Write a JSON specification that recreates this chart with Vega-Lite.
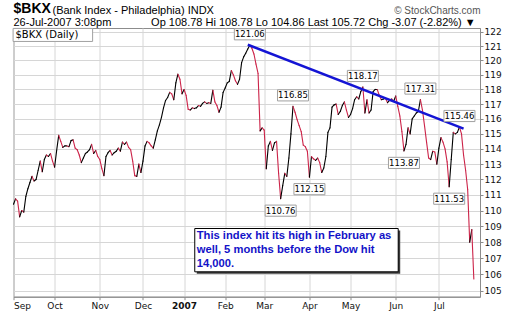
{
  "$schema": "https://vega.github.io/schema/vega-lite/v6.json",
  "width": 466.5,
  "height": 268.7,
  "autosize": {"type": "none"},
  "padding": {"left": 13.5, "top": 28, "right": 33, "bottom": 19.3},
  "background": "white",
  "title": {
    "text": "$BKX",
    "subtitle": "26-Jul-2007 3:08pm\u00a0\u00a0\u00a0\u00a0\u00a0\u00a0\u00a0\u00a0\u00a0\u00a0\u00a0\u00a0\u00a0Op 108.78  Hi 108.78  Lo 104.86  Last 105.72  Chg -3.07 (-2.82%) \u25bc",
    "anchor": "start",
    "frame": "group",
    "font": "Liberation Sans",
    "fontSize": 14,
    "fontWeight": "bold",
    "color": "#000000",
    "subtitleFont": "Liberation Sans",
    "subtitleFontSize": 11,
    "subtitleColor": "#000000",
    "subtitlePadding": 1.5,
    "offset": 1,
    "dy": 25
  },
  "config": {
    "view": {"stroke": "#8c8c8c", "strokeWidth": 1},
    "axis": {
      "gridColor": "#d6d6d6",
      "gridWidth": 1,
      "domainColor": "#8c8c8c",
      "tickColor": "#8c8c8c",
      "tickSize": 3,
      "labelFont": "DejaVu Sans",
      "labelFontSize": 9,
      "labelColor": "#111111"
    }
  },
  "datasets": {
    "px": [
      {"i":0,"c":110.4},{"i":1,"c":110.75},{"i":2,"c":110.6},{"i":3,"c":109.6},{"i":4,"c":110.0},{"i":5,"c":109.9},{"i":6,"c":110.9},{"i":7,"c":111.4},{"i":8,"c":111.8},{"i":9,"c":112.2},
      {"i":10,"c":111.9},{"i":11,"c":112.0},{"i":12,"c":112.6},{"i":13,"c":113.2},{"i":14,"c":112.5},{"i":15,"c":113.3},{"i":16,"c":113.6},{"i":17,"c":113.5},{"i":18,"c":113.7},{"i":19,"c":113.2},
      {"i":20,"c":112.8},{"i":21,"c":113.9},{"i":22,"c":114.9},{"i":23,"c":114.5},{"i":24,"c":114.1},{"i":25,"c":114.2},{"i":26,"c":114.2},{"i":27,"c":114.15},{"i":28,"c":114.55},{"i":29,"c":114.6},
      {"i":30,"c":114.05},{"i":31,"c":113.95},{"i":32,"c":113.6},{"i":33,"c":113.1},{"i":34,"c":113.4},{"i":35,"c":113.7},{"i":36,"c":113.8},{"i":37,"c":113.95},{"i":38,"c":114.3},{"i":39,"c":113.7},
      {"i":40,"c":113.9},{"i":41,"c":113.5},{"i":42,"c":113.3},{"i":43,"c":112.7},{"i":44,"c":112.25},{"i":45,"c":113.5},{"i":46,"c":113.75},{"i":47,"c":113.9},{"i":48,"c":113.6},{"i":49,"c":113.75},
      {"i":50,"c":113.85},{"i":51,"c":114.05},{"i":52,"c":113.85},{"i":53,"c":114.45},{"i":54,"c":114.3},{"i":55,"c":114.45},{"i":56,"c":114.1},{"i":57,"c":113.95},{"i":58,"c":113.2},{"i":59,"c":112.25},
      {"i":60,"c":112.2},{"i":61,"c":113.0},{"i":62,"c":112.45},{"i":63,"c":113.2},{"i":64,"c":114.2},{"i":65,"c":114.5},{"i":66,"c":114.4},{"i":67,"c":114.2},{"i":68,"c":114.05},{"i":69,"c":114.6},
      {"i":70,"c":115.2},{"i":71,"c":115.6},{"i":72,"c":116.1},{"i":73,"c":116.75},{"i":74,"c":117.25},{"i":75,"c":117.45},{"i":76,"c":117.8},{"i":77,"c":117.7},{"i":78,"c":117.3},{"i":79,"c":118.45},
      {"i":80,"c":119.05},{"i":81,"c":118.7},{"i":82,"c":117.7},{"i":83,"c":118.0},{"i":84,"c":117.6},{"i":85,"c":116.65},{"i":86,"c":116.6},{"i":87,"c":116.75},{"i":88,"c":116.7},{"i":89,"c":116.75},
      {"i":90,"c":116.9},{"i":91,"c":116.85},{"i":92,"c":117.05},{"i":93,"c":117.15},{"i":94,"c":117.05},{"i":95,"c":117.1},{"i":96,"c":117.05},{"i":97,"c":117.95},{"i":98,"c":117.15},{"i":99,"c":116.9},
      {"i":100,"c":116.45},{"i":101,"c":116.8},{"i":102,"c":117.8},{"i":103,"c":118.1},{"i":104,"c":118.45},{"i":105,"c":118.55},{"i":106,"c":119.3},{"i":107,"c":119.0},{"i":108,"c":118.6},{"i":109,"c":118.35},
      {"i":110,"c":118.7},{"i":111,"c":119.85},{"i":112,"c":120.25},{"i":113,"c":120.5},{"i":114,"c":120.8},{"i":115,"c":121.06},{"i":116,"c":120.85},{"i":117,"c":120.45},{"i":118,"c":119.75},{"i":119,"c":119.1},
      {"i":120,"c":115.2},{"i":121,"c":115.4},{"i":122,"c":115.25},{"i":123,"c":112.7},{"i":124,"c":114.2},{"i":125,"c":114.5},{"i":126,"c":113.9},{"i":127,"c":114.4},{"i":128,"c":114.5},{"i":129,"c":112.4},
      {"i":130,"c":110.76},{"i":131,"c":111.6},{"i":132,"c":112.4},{"i":133,"c":112.2},{"i":134,"c":113.4},{"i":135,"c":115.0},{"i":136,"c":116.85},{"i":137,"c":116.45},{"i":138,"c":115.95},{"i":139,"c":115.55},
      {"i":140,"c":115.15},{"i":141,"c":114.25},{"i":142,"c":114.15},{"i":143,"c":113.85},{"i":144,"c":112.15},{"i":145,"c":113.5},{"i":146,"c":113.35},{"i":147,"c":113.25},{"i":148,"c":113.4},{"i":149,"c":113.1},
      {"i":150,"c":112.45},{"i":151,"c":112.75},{"i":152,"c":113.5},{"i":153,"c":115.1},{"i":154,"c":115.4},{"i":155,"c":116.8},{"i":156,"c":116.95},{"i":157,"c":117.0},{"i":158,"c":116.3},{"i":159,"c":116.5},
      {"i":160,"c":116.9},{"i":161,"c":117.15},{"i":162,"c":116.6},{"i":163,"c":116.1},{"i":164,"c":116.3},{"i":165,"c":116.7},{"i":166,"c":117.3},{"i":167,"c":117.5},{"i":168,"c":117.35},{"i":169,"c":117.85},
      {"i":170,"c":118.17},{"i":171,"c":116.4},{"i":172,"c":117.3},{"i":173,"c":116.4},{"i":174,"c":116.6},{"i":175,"c":117.85},{"i":176,"c":118.0},{"i":177,"c":118.0},{"i":178,"c":117.6},{"i":179,"c":117.3},
      {"i":180,"c":117.35},{"i":181,"c":117.4},{"i":182,"c":117.1},{"i":183,"c":117.25},{"i":184,"c":117.35},{"i":185,"c":117.2},{"i":186,"c":117.55},{"i":187,"c":116.85},{"i":188,"c":116.2},{"i":189,"c":115.15},
      {"i":190,"c":113.87},{"i":191,"c":114.3},{"i":192,"c":115.4},{"i":193,"c":115.0},{"i":194,"c":116.0},{"i":195,"c":116.2},{"i":196,"c":116.4},{"i":197,"c":116.5},{"i":198,"c":117.31},{"i":199,"c":116.6},
      {"i":200,"c":115.55},{"i":201,"c":114.45},{"i":202,"c":113.4},{"i":203,"c":113.3},{"i":204,"c":113.85},{"i":205,"c":113.8},{"i":206,"c":113.0},{"i":207,"c":114.05},{"i":208,"c":114.75},{"i":209,"c":114.45},
      {"i":210,"c":114.0},{"i":211,"c":113.15},{"i":212,"c":111.53},{"i":213,"c":113.3},{"i":214,"c":115.1},{"i":215,"c":115.0},{"i":216,"c":115.1},{"i":217,"c":115.46},{"i":218,"c":115.0},{"i":219,"c":113.6},
      {"i":220,"c":112.6},{"i":221,"c":111.35},{"i":222,"c":108.0},{"i":223,"c":108.79},{"i":224,"c":105.72}
    ],
    "labels": [
      {"i":115,"v":121.06,"k":"hi"},{"i":136,"v":116.85,"k":"hi"},{"i":170,"v":118.17,"k":"hi"},{"i":198,"v":117.31,"k":"hi"},{"i":217,"v":115.46,"k":"hi"},
      {"i":130,"v":110.76,"k":"lo"},{"i":144,"v":112.15,"k":"lo"},{"i":190,"v":113.87,"k":"lo"},{"i":212,"v":111.53,"k":"lo"}
    ],
    "trend": [{"i":114,"v":121.1},{"i":219,"v":115.35}]
  },
  "layer": [
    {
      "data": {"name": "px"},
      "transform": [
        {"window": [{"op": "lag", "field": "c", "as": "pc"}, {"op": "lag", "field": "i", "as": "pi"}], "sort": [{"field": "i", "order": "ascending"}]},
        {"filter": "datum.pc != null"}
      ],
      "mark": {"type": "rule", "strokeWidth": 1.1, "strokeCap": "round"},
      "encoding": {
        "x": {"field": "pi", "type": "quantitative",
          "scale": {"type": "linear", "domain": [0, 227], "nice": false, "zero": false},
          "axis": {
            "title": "(Bank Index - Philadelphia) INDX",
            "titleX": 38.5,
            "titleY": -283.4,
            "titleAlign": "left",
            "titleBaseline": "alphabetic",
            "titleAngle": 0,
            "titleFont": "Liberation Sans",
            "titleFontSize": 11,
            "titleFontWeight": "normal",
            "titleColor": "#000000",
            "values": [0, 20, 42, 63, 83, 103, 122, 144, 164, 186, 207],
            "labelExpr": "['Sep','Oct','Nov','Dec','2007','Feb','Mar','Apr','May','Jun','Jul'][indexof([0,20,42,63,83,103,122,144,164,186,207], datum.value)]",
            "labelFontWeight": {"condition": {"test": "datum.value == 83", "value": "bold"}, "value": "normal"},
            "labelPadding": 2,
            "grid": true
          }
        },
        "x2": {"field": "i"},
        "y": {"field": "pc", "type": "quantitative",
          "scale": {"type": "log", "domain": [104.64, 122.28], "nice": false, "zero": false},
          "axis": {
            "title": "\u00a9 StockCharts.com",
            "titleX": 0,
            "titleY": -14.5,
            "titleAlign": "right",
            "titleBaseline": "alphabetic",
            "titleAngle": 0,
            "titleFont": "Liberation Sans",
            "titleFontSize": 10,
            "titleFontWeight": "normal",
            "titleColor": "#555555",
            "orient": "right",
            "values": [105,106,107,108,109,110,111,112,113,114,115,116,117,118,119,120,121,122],
            "format": "d",
            "labelPadding": 1,
            "grid": true
          }
        },
        "y2": {"field": "c"},
        "color": {"condition": {"test": "datum.c >= datum.pc", "value": "#000000"}, "value": "#cc2449"}
      }
    },
    {
      "data": {"name": "trend"},
      "mark": {"type": "line", "color": "#1414d4", "strokeWidth": 2.5},
      "encoding": {
        "x": {"field": "i", "type": "quantitative"},
        "y": {"field": "v", "type": "quantitative"}
      }
    },
    {
      "data": {"name": "labels"},
      "transform": [{"filter": "datum.k == 'hi'"}],
      "layer": [
        {
          "mark": {"type": "point", "shape": "M-1,-0.36L1,-0.36L1,0.36L-1,0.36Z", "size": 961, "filled": true, "fill": "white", "stroke": "#a0a0a0", "strokeWidth": 1, "opacity": 1, "yOffset": -11},
          "encoding": {
            "x": {"field": "i", "type": "quantitative"},
            "y": {"field": "v", "type": "quantitative"}
          }
        },
        {
          "mark": {"type": "text", "font": "DejaVu Sans", "fontSize": 8.5, "color": "#000000", "baseline": "middle", "align": "center", "yOffset": -11},
          "encoding": {
            "x": {"field": "i", "type": "quantitative"},
            "y": {"field": "v", "type": "quantitative"},
            "text": {"field": "v", "type": "quantitative", "format": ".2f"}
          }
        }
      ]
    },
    {
      "data": {"name": "labels"},
      "transform": [{"filter": "datum.k == 'lo'"}],
      "layer": [
        {
          "mark": {"type": "point", "shape": "M-1,-0.36L1,-0.36L1,0.36L-1,0.36Z", "size": 961, "filled": true, "fill": "white", "stroke": "#a0a0a0", "strokeWidth": 1, "opacity": 1, "yOffset": 12},
          "encoding": {
            "x": {"field": "i", "type": "quantitative"},
            "y": {"field": "v", "type": "quantitative"}
          }
        },
        {
          "mark": {"type": "text", "font": "DejaVu Sans", "fontSize": 8.5, "color": "#000000", "baseline": "middle", "align": "center", "yOffset": 12},
          "encoding": {
            "x": {"field": "i", "type": "quantitative"},
            "y": {"field": "v", "type": "quantitative"},
            "text": {"field": "v", "type": "quantitative", "format": ".2f"}
          }
        }
      ]
    },
    {
      "data": {"values": [{}]},
      "mark": {"type": "rect", "fill": "white", "stroke": "#a0a0a0", "strokeWidth": 1},
      "encoding": {
        "x": {"datum": -0.2},
        "x2": {"datum": 38.5},
        "y": {"datum": 122.25},
        "y2": {"datum": 121.33}
      }
    },
    {
      "data": {"values": [{}]},
      "mark": {"type": "text", "text": "$BKX (Daily)", "font": "DejaVu Sans", "fontSize": 10, "color": "#000000", "align": "left", "baseline": "middle", "dx": 2},
      "encoding": {
        "x": {"datum": 0},
        "y": {"datum": 121.8}
      }
    },
    {
      "data": {"values": [{}]},
      "mark": {"type": "rect", "fill": "#3c3c3c", "xOffset": 2, "x2Offset": 2, "yOffset": 2, "y2Offset": 2},
      "encoding": {
        "x": {"datum": 88.2},
        "x2": {"datum": 187.2},
        "y": {"datum": 108.86},
        "y2": {"datum": 106.16}
      }
    },
    {
      "data": {"values": [{}]},
      "mark": {"type": "rect", "fill": "white", "stroke": "#000000", "strokeWidth": 1},
      "encoding": {
        "x": {"datum": 88.2},
        "x2": {"datum": 187.2},
        "y": {"datum": 108.86},
        "y2": {"datum": 106.16}
      }
    },
    {
      "data": {"values": [{}]},
      "mark": {"type": "text", "text": ["This index hit its high in February as", "well, 5 months before the Dow hit", "14,000."], "font": "Liberation Sans", "fontWeight": "bold", "fontSize": 11.2, "lineHeight": 14, "color": "#1212c8", "align": "left", "baseline": "top", "dx": 2, "dy": 1},
      "encoding": {
        "x": {"datum": 88.2},
        "y": {"datum": 108.86}
      }
    }
  ]
}
